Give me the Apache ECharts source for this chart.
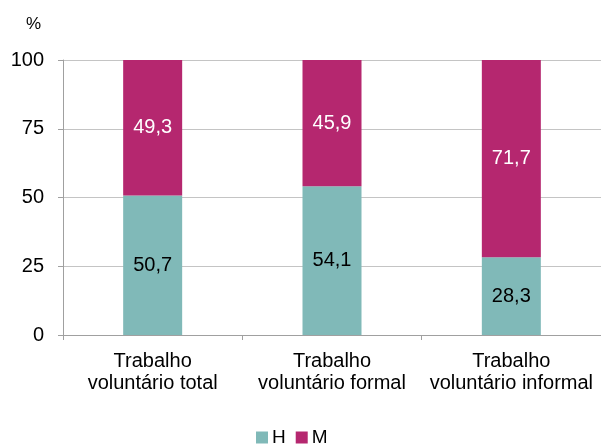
<!DOCTYPE html>
<html>
<head>
<meta charset="utf-8">
<script src="https://cdn.jsdelivr.net/npm/echarts@6/dist/echarts.min.js"></script>
<style>
  html, body { margin: 0; padding: 0; background: #fff; }
  #main { width: 601px; height: 445px; }
</style>
</head>
<body>
<div id="main"></div>
<script>
// categorias e valores (%)
const categories = ['Trabalho\nvoluntário total', 'Trabalho\nvoluntário formal', 'Trabalho\nvoluntário informal'];
const homens = [50.7, 54.1, 28.3];
const mulheres = [49.3, 45.9, 71.7];
const yTicks = [0, 25, 50, 75, 100];

const font = 'Liberation Sans, Arial, sans-serif';
const fmt = p => p.value.toFixed(1).replace('.', ',');

const chart = echarts.init(document.getElementById('main'));
chart.setOption({
  animation: false,
  textStyle: { fontFamily: font },
  grid: { left: 63, right: 0, top: 60, bottom: 110 },
  legend: {
    top: 428,
    left: 256,
    padding: 0,
    itemWidth: 12,
    itemHeight: 12,
    itemGap: 10,
    icon: 'rect',
    textStyle: { fontSize: 19, color: '#000', padding: [0, 0, 0, -1] },
    data: ['H', 'M']
  },
  xAxis: {
    type: 'category',
    data: categories,
    axisLine: { lineStyle: { color: '#a0a0a0' } },
    axisTick: { show: true, length: 5, lineStyle: { color: '#a0a0a0' } },
    axisLabel: { fontSize: 20, color: '#000', lineHeight: 22, margin: 15, interval: 0, hideOverlap: false }
  },
  yAxis: {
    type: 'value',
    name: '%',
    nameLocation: 'end',
    nameGap: 27,
    nameTextStyle: { fontSize: 17, color: '#000', align: 'right', padding: [0, 22, 0, 0] },
    min: yTicks[0],
    max: yTicks[yTicks.length - 1],
    interval: 25,
    axisLine: { show: true, lineStyle: { color: '#a0a0a0' } },
    axisTick: { show: true, length: 5, lineStyle: { color: '#a0a0a0' } },
    axisLabel: { fontSize: 20, color: '#000', margin: 19 },
    splitLine: { lineStyle: { color: '#c4c4c4' } }
  },
  series: [
    {
      name: 'H',
      type: 'bar',
      stack: 'total',
      barWidth: 59,
      data: homens,
      itemStyle: { color: '#80b9b8' },
      label: { show: true, position: 'inside', formatter: fmt, fontSize: 20, color: '#000' }
    },
    {
      name: 'M',
      type: 'bar',
      stack: 'total',
      barWidth: 59,
      data: mulheres,
      itemStyle: { color: '#b5276f' },
      label: { show: true, position: 'inside', formatter: fmt, fontSize: 20, color: '#fff' }
    }
  ]
});
</script>
</body>
</html>
